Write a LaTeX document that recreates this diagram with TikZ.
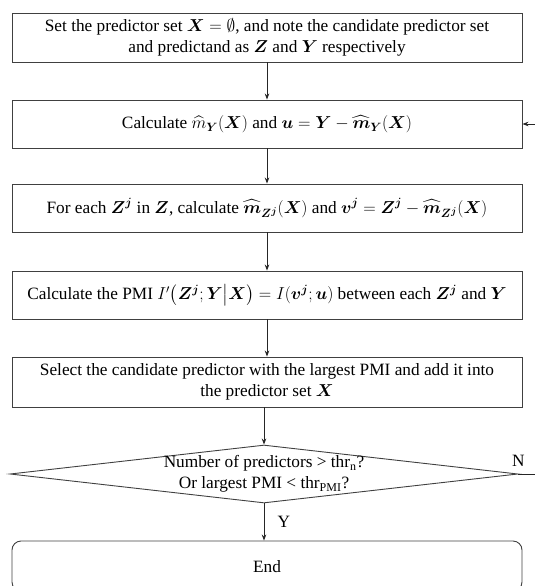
\documentclass[tikz,border=0pt]{standalone}
\usepackage{amsmath,amssymb,bm}
\usepackage{fontspec}
\setmainfont{Liberation Serif}
\DeclareMathSizes{17.28}{17.28}{12}{10}
\usetikzlibrary{shapes,arrows.meta,positioning}

\tikzset{
    stepbox/.style={draw=black!75, line width=0.9pt, minimum width=510pt, minimum height=48pt, text width=505pt, align=flush center, inner sep=0pt},
    flow/.style={draw=black!85, line width=0.8pt, -{Stealth[length=6pt,width=4.5pt]}}
}

\begin{document}
\begin{tikzpicture}[x=1pt, y=-1pt, font=\fontsize{17.28}{21.5}\selectfont]
    \useasboundingbox (0,0) rectangle (535,586);

    \node[stepbox, minimum height=49pt] (init) at (267,37.5) {Set the predictor set $\bm{X}=\emptyset$, and note the candidate predictor set\\ and predictand as $\bm{Z}$ and $\bm{Y}$ respectively};
    \node[stepbox] (resid) at (267,124) {Calculate $\widehat{m}_{\bm{Y}}(\bm{X})$ and $\bm{u}=\bm{Y}-\widehat{\bm{m}}_{\bm{Y}}(\bm{X})$};
    \node[stepbox] (cand) at (267,208) {For each $\bm{Z^j}$ in $\bm{Z}$, calculate $\widehat{\bm{m}}_{\bm{Z^j}}(\bm{X})$ and $\bm{v^j}=\bm{Z^j}-\widehat{\bm{m}}_{\bm{Z^j}}(\bm{X})$};
    \node[stepbox] (pmi) at (267,295) {Calculate the PMI $I'\big(\bm{Z^j};\bm{Y}\big|\bm{X}\big)=I(\bm{v^j};\bm{u})$ between each $\bm{Z^j}$ and $\bm{Y}$};
    \node[stepbox, minimum height=50pt] (select) at (267,382) {Select the candidate predictor with the largest PMI and add it into\\ the predictor set $\bm{X}$};

    % stopping rule
    \node[draw=black!75, line width=0.9pt, diamond, inner sep=0pt, minimum width=508pt, minimum height=58pt] (check) at (264,474) {};
    \node[align=center, inner sep=0pt] (checktext) at (check.center) {Number of predictors > thr\textsubscript{n}?\\ Or largest PMI < thr\textsubscript{PMI}?};

    \node[stepbox, rounded corners=9pt, minimum height=50pt] (done) at (267,566) {};
    \node (endtext) at (267,567) {End};

    \draw[flow] (init) -- (resid);
    \draw[flow] (resid) -- (cand);
    \draw[flow] (cand) -- (pmi);
    \draw[flow] (pmi) -- (select);
    \draw[flow] (select.south -| check.north) -- (check.north);
    \draw[flow] (check.south) -- (done.north -| check.south) node[midway, right=10pt] {Y};

    % loop back (runs off the page on the right)
    \node[above=6pt, inner sep=1pt] (nlabel) at (check.east) {N};
    \draw[flow] (check.east) -- ++(32,0) |- (resid.east);
\end{tikzpicture}
\end{document}
